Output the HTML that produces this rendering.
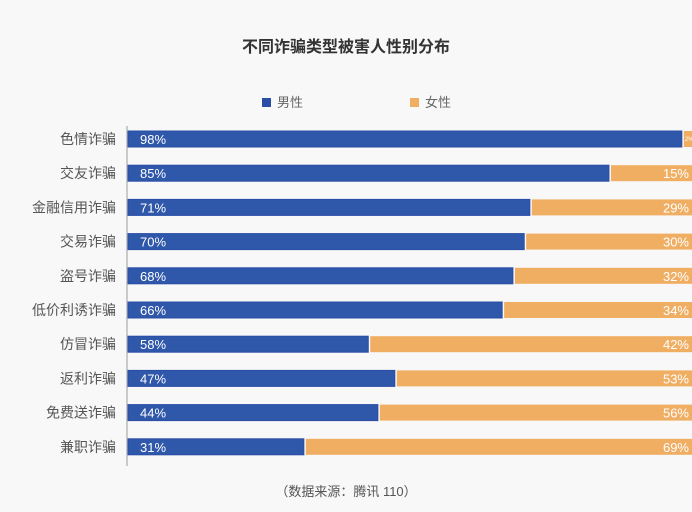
<!DOCTYPE html>
<html><head><meta charset="utf-8"><style>
body{margin:0;background:#f8f8f8;width:692px;height:507px;overflow:hidden;font-family:"Liberation Sans","Noto Sans CJK SC",sans-serif}
</style></head><body>
<svg id="c" width="692" height="507" xmlns="http://www.w3.org/2000/svg">
<text x="346" y="52" text-anchor="middle" font-size="16" font-weight="bold" fill="#333">不同诈骗类型被害人性别分布</text>
<g><rect x="262" y="98" width="9" height="9" fill="#2a4ea6"/><text x="277" y="107" font-size="13" fill="#666">男性</text></g>
<g><rect x="410" y="98" width="9" height="9" fill="#f0ae63"/><text x="425" y="107" font-size="13" fill="#666">女性</text></g>
<line x1="127" y1="126" x2="127" y2="466" stroke="#bbb" stroke-width="1.5"/>
<g id="bars"></g>
<text x="346" y="496" text-anchor="middle" font-size="13" fill="#555">（数据来源：腾讯 110）</text>
</svg>
<script>
const categories=["色情诈骗","交友诈骗","金融信用诈骗","交易诈骗","盗号诈骗","低价利诱诈骗","仿冒诈骗","返利诈骗","免费送诈骗","兼职诈骗"];
const maleValues=[98.2,85.3,71.3,70.3,68.3,66.4,42.7,47.4,44.4,31.3];
const maleLabels=["98%","85%","71%","70%","68%","66%","58%","47%","44%","31%"];
const femaleLabels=["2%","15%","29%","30%","32%","34%","42%","53%","56%","69%"];
const x0=127,x1=692,yStart=139,pitch=34.2,bh=16;
const xs=v=>x0+(x1-x0)*v/100;
const g=document.getElementById('bars');
const NS="http://www.w3.org/2000/svg";
function mk(t,a){const e=document.createElementNS(NS,t);for(const k in a)e.setAttribute(k,a[k]);return e;}
categories.forEach((c,i)=>{
  const yc=yStart+i*pitch, y=yc-bh/2, xm=xs(maleValues[i]);
  const lab=mk('text',{x:116,y:yc+5,'text-anchor':'end','font-size':14,fill:'#555'});
  
  
  lab.textContent=c;g.appendChild(lab);
  const m=mk('rect',{x:x0+1,y:y,width:xm-x0-1,height:bh,fill:'#2f57aa',stroke:'#2a4ea6'});
  
  
  g.appendChild(m);
  const f=mk('rect',{x:xm+2,y:y,width:x1-xm-2,height:bh,fill:'#f0ae63'});
  
  
  g.appendChild(f);
  const mt=mk('text',{x:140,y:yc+5,'font-size':13,fill:'#fff'});
  
  
  mt.textContent=maleLabels[i];g.appendChild(mt);
  const small=(x1-xm)<30;
  const ft=mk('text',{x:small?xm+3:689,y:yc+(small?2:5),'text-anchor':small?'start':'end','font-size':small?6:13,fill:'#fff'});
  
  
  ft.textContent=femaleLabels[i];g.appendChild(ft);
});
</script>
</body></html>
